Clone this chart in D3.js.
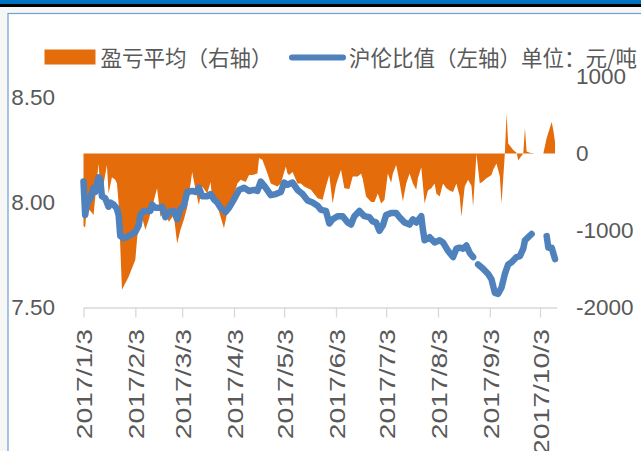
<!DOCTYPE html>
<html>
<head>
<meta charset="utf-8">
<script src="https://cdnjs.cloudflare.com/ajax/libs/d3/7.8.5/d3.min.js"></script>
<style>
    body { margin: 0; background: #f6f6f4; }
    svg { display: block; }
</style>
</head>
<body>
<script>
// 沪伦比值 (left axis)
var ratioDates = ["2017-01-03","2017-01-04","2017-01-05","2017-01-07","2017-01-09","2017-01-10","2017-01-12","2017-01-13","2017-01-14","2017-01-16",
    "2017-01-18","2017-01-19","2017-01-21","2017-01-23","2017-01-24","2017-01-25","2017-01-27","2017-01-30","2017-02-03","2017-02-05",
    "2017-02-06","2017-02-08","2017-02-10","2017-02-12","2017-02-13","2017-02-15","2017-02-18","2017-02-19","2017-02-21","2017-02-23",
    "2017-02-26","2017-02-28","2017-03-02","2017-03-04","2017-03-06","2017-03-09","2017-03-11","2017-03-13","2017-03-15","2017-03-18",
    "2017-03-20","2017-03-22","2017-03-24","2017-03-26","2017-03-29","2017-03-31","2017-04-03","2017-04-06","2017-04-09","2017-04-12",
    "2017-04-15","2017-04-17","2017-04-19","2017-04-22","2017-04-25","2017-04-28","2017-05-01","2017-05-03","2017-05-05","2017-05-08",
    "2017-05-11","2017-05-14","2017-05-17","2017-05-20","2017-05-23","2017-05-25","2017-05-28","2017-05-30","2017-06-01","2017-06-04",
    "2017-06-07","2017-06-10","2017-06-12","2017-06-14","2017-06-17","2017-06-20","2017-06-23","2017-06-25","2017-06-27","2017-06-29",
    "2017-07-01","2017-07-03","2017-07-06","2017-07-09","2017-07-11","2017-07-14","2017-07-17","2017-07-19","2017-07-21","2017-07-24",
    "2017-07-25","2017-07-26","2017-07-29","2017-08-01","2017-08-04","2017-08-06","2017-08-09","2017-08-12","2017-08-14","2017-08-16",
    "2017-08-18","2017-08-20","2017-08-22","2017-08-24","2017-08-25","2017-08-27","2017-08-30","2017-09-02","2017-09-04","2017-09-06",
    "2017-09-08","2017-09-10","2017-09-12","2017-09-14","2017-09-16","2017-09-19","2017-09-21","2017-09-23","2017-09-24","2017-09-26",
    "2017-09-28","2017-10-02","2017-10-07","2017-10-08","2017-10-10","2017-10-12"]
var ratioValues = [8.10,7.94,7.99,8.02,8.07,8.05,8.12,8.11,8.03,8.02,
    7.98,8.00,7.99,7.97,7.94,7.84,7.83,7.84,7.86,7.89,
    7.94,7.96,7.96,7.96,7.99,7.975,7.975,7.98,7.93,7.955,
    7.96,7.92,7.97,7.985,8.05,8.055,8.05,8.07,8.03,8.03,
    8.04,8.015,8.00,7.975,7.955,7.975,8.015,8.06,8.07,8.055,
    8.06,8.055,8.10,8.07,8.035,8.04,8.05,8.095,8.085,8.095,
    8.06,8.04,8.01,8.00,7.985,7.965,7.96,7.90,7.92,7.935,
    7.935,7.905,7.895,7.935,7.96,7.935,7.93,7.91,7.905,7.865,
    7.89,7.94,7.95,7.95,7.93,7.905,7.895,7.92,7.905,7.935,
    7.87,7.82,7.835,7.81,7.82,7.81,7.77,7.74,7.78,7.785,
    7.78,7.795,7.76,7.74,null,7.705,7.685,7.66,7.635,7.57,
    7.565,7.595,7.66,7.705,7.715,7.74,7.745,7.78,7.82,7.835,
    7.85,null,7.84,7.785,7.785,7.73]

// 盈亏平均 (right axis)
var profitDates = ["2017-01-03","2017-01-04","2017-01-05","2017-01-06","2017-01-08","2017-01-09","2017-01-12","2017-01-13","2017-01-15","2017-01-17",
    "2017-01-18","2017-01-20","2017-01-22","2017-01-23","2017-01-24","2017-01-26","2017-01-30","2017-02-03","2017-02-04","2017-02-05",
    "2017-02-07","2017-02-09","2017-02-11","2017-02-12","2017-02-16","2017-02-18","2017-02-21","2017-02-23","2017-02-26","2017-02-28",
    "2017-03-02","2017-03-04","2017-03-06","2017-03-09","2017-03-11","2017-03-13","2017-03-15","2017-03-18","2017-03-20","2017-03-21",
    "2017-03-24","2017-03-28","2017-03-30","2017-04-01","2017-04-05","2017-04-07","2017-04-10","2017-04-12","2017-04-14","2017-04-17",
    "2017-04-18","2017-04-20","2017-04-23","2017-04-25","2017-04-29","2017-05-01","2017-05-04","2017-05-05","2017-05-06","2017-05-08",
    "2017-05-11","2017-05-13","2017-05-15","2017-05-19","2017-05-23","2017-05-26","2017-05-28","2017-05-30","2017-06-01","2017-06-03",
    "2017-06-06","2017-06-08","2017-06-11","2017-06-13","2017-06-16","2017-06-18","2017-06-19","2017-06-21","2017-06-24","2017-06-26",
    "2017-06-28","2017-06-30","2017-07-02","2017-07-04","2017-07-06","2017-07-07","2017-07-09","2017-07-11","2017-07-13","2017-07-15",
    "2017-07-17","2017-07-19","2017-07-21","2017-07-22","2017-07-24","2017-07-26","2017-07-28","2017-07-30","2017-08-01","2017-08-02",
    "2017-08-04","2017-08-06","2017-08-08","2017-08-10","2017-08-12","2017-08-14","2017-08-16","2017-08-17","2017-08-19","2017-08-21",
    "2017-08-23","2017-08-24","2017-08-26","2017-08-28","2017-08-30","2017-09-01","2017-09-04","2017-09-05","2017-09-07","2017-09-09",
    "2017-09-10","2017-09-12","2017-09-13","2017-09-14","2017-09-17","2017-09-19","2017-09-20","2017-09-21","2017-09-23","2017-09-24",
    "2017-09-25","2017-09-27","2017-09-30","2017-10-05","2017-10-07","2017-10-10","2017-10-11","2017-10-12"]
var profitValues = [-940,-960,-690,-720,-770,-800,-130,-450,-400,-150,
    -520,-310,-340,-390,-650,-1770,-1600,-1380,-1120,-900,
    -830,-990,-860,-780,-450,-820,-730,-890,-800,-1170,
    -990,-860,-700,-240,-470,-670,-430,-520,-370,-600,
    -680,-970,-760,-700,-390,-340,-370,-280,-280,-260,
    -60,-80,-260,-390,-430,-390,-170,-260,-280,-240,
    -390,-390,-430,-470,-580,-600,-430,-280,-650,-410,
    -210,-450,-460,-300,-300,-260,-330,-560,-630,-630,
    -520,-650,-600,-260,-380,-260,-150,-370,-620,-390,
    -260,-390,-470,-320,-180,-650,-480,-450,-390,-520,
    -560,-390,-450,-480,-500,-390,-560,-820,-430,-340,
    -420,-690,-5,-390,-360,-320,-280,-210,-130,-300,
    -650,0,520,130,45,10,-90,-60,0,330,
    25,10,0,0,200,410,300,150]

var xTickDates = ["2017-01-03","2017-02-03","2017-03-03","2017-04-03","2017-05-03","2017-06-03","2017-07-03","2017-08-03","2017-09-03","2017-10-03"]
var leftTicks = [7.5, 8.0, 8.5]
var rightTicks = [-2000, -1000, 0, 1000]
var legendNames = ["盈亏平均（右轴）", "沪伦比值（左轴）单位：元/吨"]

var orange = "#e46c0a"
var blue = "#4f81bd"
var labelColor = "#595959"

document.addEventListener('DOMContentLoaded', function () {
    var width = 641, height = 451
    var parse = d3.timeParse("%Y-%m-%d")

    var ratio = ratioDates.map((d, i) => ({ date: parse(d), value: ratioValues[i] }))
    var profit = profitDates.map((d, i) => ({ date: parse(d), value: profitValues[i] }))

    var svg = d3.select("body").append("svg")
        .attr("width", width)
        .attr("height", height)

    // frame
    svg.append("rect").attr("x", 8).attr("y", 13.5).attr("width", width).attr("height", height)
        .attr("fill", "#fff").attr("stroke", "#6e9fd6").attr("stroke-width", 1.2)
    svg.append("rect").attr("x", 0).attr("y", 0).attr("width", width).attr("height", 4).attr("fill", "#0070c0")
    svg.append("rect").attr("x", 0).attr("y", 4).attr("width", width).attr("height", 3).attr("fill", "#000")

    // scales
    var xScale = d3.scaleTime()
        .domain([parse("2017-01-03"), parse("2017-10-13")])
        .range([83.5, 556.7])
    var yLeft = d3.scaleLinear().domain([7.5, 8.6]).range([307.5, 76.5])
    var yRight = d3.scaleLinear().domain([-2000, 1000]).range([307.5, 76.5])

    // profit area
    var area = d3.area()
        .x(d => xScale(d.date))
        .y0(yRight(0))
        .y1(d => yRight(d.value))
    svg.append("path")
        .datum(profit)
        .attr("d", area)
        .attr("fill", orange)

    // x axis
    var xAxis = d3.axisBottom(xScale)
        .tickValues(xTickDates.map(parse))
        .tickSize(10)
        .tickSizeOuter(0)
        .tickFormat(d3.timeFormat("%Y/%-m/%-d"))
    var gx = svg.append("g")
        .attr("id", "x-axis")
        .attr("transform", "translate(0,307.5)")
        .call(xAxis)
    gx.select(".domain").attr("stroke", "#d9d9d9").attr("stroke-width", 1.3)
    gx.selectAll(".tick line").attr("stroke", "#d9d9d9").attr("stroke-width", 1.3)
    gx.selectAll(".tick text")
        .attr("x", null).attr("y", null).attr("dy", null)
        .attr("transform", "translate(0.5,21.5) rotate(-90) scale(1.26,1)")
        .attr("text-anchor", "end")
        .attr("dominant-baseline", "central")
        .attr("fill", labelColor)
        .style("font", "22.5px 'Liberation Sans', Arial, sans-serif")

    // left axis
    var gl = svg.append("g")
        .attr("id", "y-axis")
        .attr("transform", "translate(55,0)")
        .call(d3.axisLeft(yLeft).tickValues(leftTicks).tickSize(0).tickPadding(0).tickFormat(d3.format(".2f")))
    gl.select(".domain").remove()
    gl.selectAll("text").attr("fill", labelColor).style("font", "22.5px 'Liberation Sans', Arial, sans-serif")

    // right axis
    var gr = svg.append("g")
        .attr("id", "y2-axis")
        .attr("transform", "translate(576,0)")
        .call(d3.axisRight(yRight).tickValues(rightTicks).tickSize(0).tickPadding(0).tickFormat(d => String(d)))
    gr.select(".domain").remove()
    gr.selectAll("text").attr("fill", labelColor).style("font", "22.5px 'Liberation Sans', Arial, sans-serif")

    // ratio line
    var line = d3.line()
        .defined(d => d.value !== null)
        .x(d => xScale(d.date))
        .y(d => yLeft(d.value))
    svg.append("path")
        .datum(ratio)
        .attr("d", line)
        .attr("fill", "none")
        .attr("stroke", blue)
        .attr("stroke-width", 6.5)
        .attr("stroke-linejoin", "round")
        .attr("stroke-linecap", "round")

    // legend
    var lg = svg.append("g").style("font", "21.5px 'Noto Sans CJK SC', sans-serif")
    lg.append("rect").attr("x", 44.5).attr("y", 49.5).attr("width", 51).attr("height", 15).attr("fill", orange)
    lg.append("text").attr("x", 100.5).attr("y", 56).attr("dominant-baseline", "central")
        .attr("fill", labelColor).text(legendNames[0])
    lg.append("line").attr("x1", 292).attr("x2", 343).attr("y1", 57.5).attr("y2", 57.5)
        .attr("stroke", blue).attr("stroke-width", 6).attr("stroke-linecap", "round")
    lg.append("text").attr("x", 349).attr("y", 56).attr("dominant-baseline", "central")
        .attr("fill", labelColor).text(legendNames[1])
});
</script>
</body>
</html>
